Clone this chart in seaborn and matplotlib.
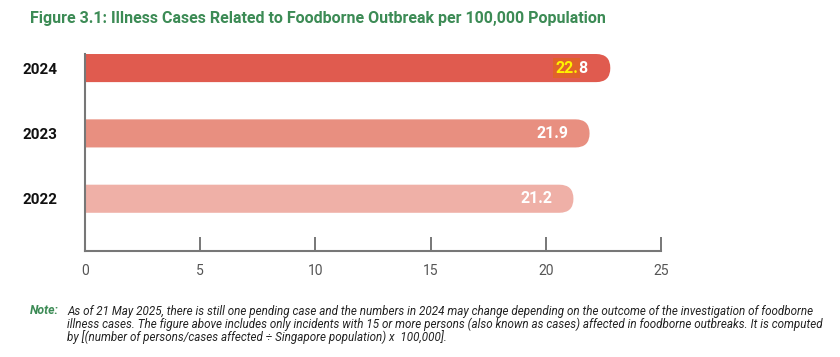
import matplotlib
matplotlib.use('Agg')
import matplotlib.pyplot as plt
from matplotlib.patches import FancyBboxPatch
import seaborn as sns
import pandas as pd

years = ['2024', '2023', '2022']
values = [22.8, 21.9, 21.2]
bar_colors = ['#E05B4F', '#E88F80', '#EFB0A7']
xticks = [0, 5, 10, 15, 20, 25]

title = 'Figure 3.1: Illness Cases Related to Foodborne Outbreak per 100,000 Population'
note_lines = [
    'As of 21 May 2025, there is still one pending case and the numbers in 2024 may change depending on the outcome of the investigation of foodborne',
    'illness cases. The figure above includes only incidents with 15 or more persons (also known as cases) affected in foodborne outbreaks. It is computed',
    'by [(number of persons/cases affected \u00f7 Singapore population) x  100,000].',
]

sns.set_style('white')
plt.rcParams['font.family'] = ['Roboto', 'DejaVu Sans']

df = pd.DataFrame({'year': years, 'value': values})

fig = plt.figure(figsize=(8.4, 3.57), dpi=100)
ax = fig.add_axes([0.1012, 0.2969, 0.6857, 0.5518])

sns.barplot(data=df, y='year', x='value', hue='year', palette=bar_colors,
            order=years, width=0.43, saturation=1, legend=False, ax=ax)

ax.set_xlim(0, 25)
ax.set_ylim(2.8, -0.215)

# swap flat bars for ones with a rounded right end
fig.canvas.draw()
px_x = ax.transData.transform((1, 0))[0] - ax.transData.transform((0, 0))[0]
px_y = abs(ax.transData.transform((0, 1))[1] - ax.transData.transform((0, 0))[1])
for p in list(ax.patches):
    x0, y0, w, h = p.get_x(), p.get_y(), p.get_width(), p.get_height()
    col = p.get_facecolor()
    p.remove()
    r = (h * px_y / 2) / px_x
    fb = FancyBboxPatch((x0 - r, y0), w + r, h,
                        boxstyle=f'round,pad=0,rounding_size={r}',
                        mutation_aspect=(px_x / px_y),
                        facecolor=col, edgecolor='none', clip_on=True)
    ax.add_patch(fb)

# value labels
for i, v in enumerate(values):
    lbl = f'{v:.1f}'
    if i == 0:
        t1 = ax.text(v - 1.4, i, lbl[:-1], ha='right', va='center', color='#FFF200',
                     fontsize=11.5, fontweight='bold',
                     bbox=dict(boxstyle='square,pad=0.15', fc='#E0622A', ec='none'))
        ax.annotate(lbl[-1], xy=(1, 0.5), xycoords=t1, xytext=(0.2, 0),
                    textcoords='offset points', ha='left', va='center',
                    color='white', fontsize=11.5, fontweight='bold')
    else:
        ax.text(v - 0.9, i, lbl, ha='right', va='center', color='white',
                fontsize=11.5, fontweight='bold')

ax.set_xticks(xticks)
ax.set_xticklabels([str(t) for t in xticks], fontsize=10, color='#555555')
ax.set_yticks(range(len(years)))
ax.set_yticklabels(years, fontsize=11, fontweight='bold', color='#111111')
ax.tick_params(axis='y', left=False, length=0, pad=20)
ax.tick_params(axis='x', bottom=True, direction='in', length=10, width=1.4,
               color='#777777', pad=9)
ax.xaxis.get_major_ticks()[0].tick1line.set_visible(False)
ax.set_xlabel('')
ax.set_ylabel('')

for s in ['top', 'right']:
    ax.spines[s].set_visible(False)
for s in ['left', 'bottom']:
    ax.spines[s].set_color('#777777')
    ax.spines[s].set_linewidth(1.5)

fig.text(30 / 840, 1 - 18 / 357, title, fontsize=11.5, fontweight='bold',
         color='#3C8B55', ha='left', va='center')

fig.text(30 / 840, 1 - 311 / 357, 'Note:', fontsize=8.8, fontweight='bold',
         fontstyle='italic', color='#3C8B55', ha='left', va='center')
for k, line in enumerate(note_lines):
    fig.text(67 / 840, 1 - (311 + 13 * k) / 357, line, fontsize=8.4,
             fontstyle='italic', color='#222222', ha='left', va='center')

fig.savefig('out.png', dpi=100)
